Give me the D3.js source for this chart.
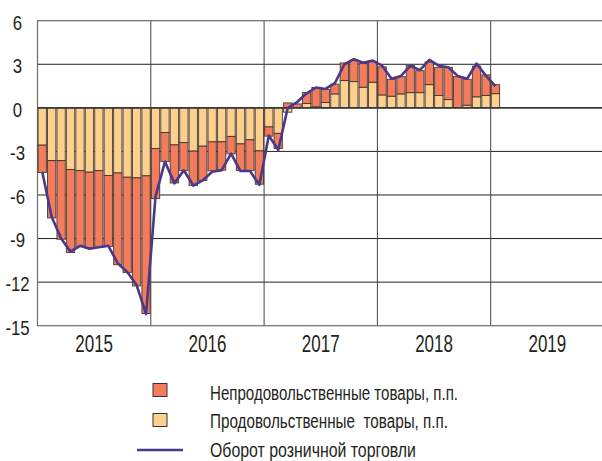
<!DOCTYPE html>
<html><head><meta charset="utf-8">
<script src="https://cdn.jsdelivr.net/npm/d3@7"></script>
<style>
body{margin:0;background:#fff;}
svg text{font-family:"Liberation Sans Narrow","Liberation Sans",Arial,sans-serif;fill:#231f20;}
</style></head>
<body><svg id="c" width="602" height="461"></svg>
<script>
const years = ["2015","2016","2017","2018","2019"];
const months = d3.range(60).map(i => i); // Jan 2015 .. Dec 2019
const foodValues = [
 -2.57,-3.63,-3.63,-4.25,-4.32,-4.43,-4.32,-4.66,-4.48,-4.78,-4.82,-4.68,
 -2.80,-1.70,-2.55,-2.39,-2.98,-2.64,-2.34,-2.34,-1.97,-2.48,-2.20,-2.96,
 -1.31,-1.76,-0.30,0.00,0.30,0.07,0.37,0.96,1.88,1.81,1.42,1.76,
 0.89,0.80,0.96,1.05,1.05,1.60,0.85,0.57,0.00,0.18,0.76,0.85,
 0.98];
const nonFoodValues = [
 -1.88,-3.95,-5.42,-5.71,-5.23,-5.21,-5.28,-4.89,-6.32,-6.56,-7.44,-9.48,
 -3.44,-2.00,-2.62,-1.93,-2.37,-2.36,-2.00,-1.95,-1.20,-1.84,-2.12,-2.30,
 -0.64,-1.04,0.34,0.27,0.75,1.33,0.89,0.67,1.21,1.46,1.63,1.44,
 1.93,1.17,1.19,1.86,1.51,1.56,1.94,2.22,2.15,1.79,2.10,1.42,
 0.62];
const turnoverValues = [
 -4.4,-7.5,-9.0,-9.9,-9.5,-9.7,-9.6,-9.5,-10.7,-11.3,-12.2,-14.2,
 -6.1,-3.7,-5.2,-4.3,-5.35,-5.0,-4.4,-4.3,-3.15,-4.35,-4.35,-5.3,
 -1.9,-2.9,0.0,0.4,1.0,1.4,1.3,1.7,3.0,3.35,3.1,3.25,
 2.9,2.0,2.2,2.9,2.6,3.3,2.9,2.8,2.2,2.0,3.05,2.2,
 1.5];
const yTicks = [6,3,0,-3,-6,-9,-12,-15];
const legendLabels = ["Непродовольственные товары, п.п.","Продовольственные  товары, п.п.","Оборот розничной торговли"];
const colors = {nonFood:"#f27c5b", food:"#fdd08e", line:"#4a3888", stroke:"#3b3330"};

const svg = d3.select("#c");
const L = 37.5, R = 604, T = 20.7, B = 325.7;
const x = d3.scaleBand().domain(months).range([L, R]).paddingInner(0.12).paddingOuter(0.06);
const xYear = d3.scaleBand().domain(years).range([L, R]);
const y = d3.scaleLinear().domain([-15, 6]).range([B, T]);

// grid
svg.append("g").selectAll("line").data(yTicks.filter(v => v !== 0 && v !== -15 && v !== 6)).join("line")
  .attr("x1", L).attr("x2", R).attr("y1", d => y(d)).attr("y2", d => y(d))
  .attr("stroke", "#231f20").attr("stroke-width", 1);
svg.append("g").selectAll("line").data(years.slice(1)).join("line")
  .attr("x1", d => xYear(d)).attr("x2", d => xYear(d)).attr("y1", T).attr("y2", B)
  .attr("stroke", "#444").attr("stroke-width", 1);
// frame
svg.append("rect").attr("x", L).attr("y", T).attr("width", R - L).attr("height", B - T)
  .attr("fill", "none").attr("stroke", "#6d6d6d").attr("stroke-width", 1.2);

// bars
const rows = foodValues.map((f, i) => ({m: months[i], food: f, nonFood: nonFoodValues[i]}));
const stack = d3.stack().keys(["food","nonFood"]).offset(d3.stackOffsetDiverging);
const series = stack(rows);
svg.append("g").selectAll("g").data(series).join("g")
  .attr("fill", d => colors[d.key])
  .selectAll("rect").data(d => d).join("rect")
  .attr("x", d => x(d.data.m)).attr("width", x.bandwidth())
  .attr("y", d => y(Math.max(d[0], d[1])))
  .attr("height", d => Math.abs(y(d[0]) - y(d[1])))
  .attr("stroke", colors.stroke).attr("stroke-width", 1).attr("stroke-opacity", 0.85);

// zero line
svg.append("line").attr("x1", L).attr("x2", R).attr("y1", y(0)).attr("y2", y(0))
  .attr("stroke", "#3a3a3a").attr("stroke-width", 1.6);

// line
const line = d3.line().x((d, i) => x(months[i]) + x.bandwidth() / 2).y(d => y(d));
svg.append("path").datum(turnoverValues).attr("d", line)
  .attr("fill", "none").attr("stroke", colors.line).attr("stroke-width", 2.6).attr("stroke-linejoin", "round");

// y axis labels (condensed via horizontal scale)
svg.append("g").selectAll("text").data(yTicks).join("text")
  .attr("transform", d => `translate(17.5,${y(d) + 8.8}) scale(0.84,1)`)
  .attr("text-anchor", "middle").attr("font-size", 20).text(d => String(d));
// x labels
svg.append("g").selectAll("text").data(years).join("text")
  .attr("transform", d => `translate(${xYear(d) + xYear.bandwidth() / 2},351.5) scale(0.74,1)`)
  .attr("text-anchor", "middle").attr("font-size", 23).text(d => d);

// legend
const lg = svg.append("g");
[colors.nonFood, colors.food].forEach((c, i) => {
  lg.append("rect").attr("x", 153).attr("y", 383.5 + i * 30).attr("width", 14).attr("height", 13)
    .attr("fill", c).attr("stroke", colors.stroke).attr("stroke-width", 1);
});
lg.append("line").attr("x1", 137).attr("x2", 183).attr("y1", 450).attr("y2", 450)
  .attr("stroke", colors.line).attr("stroke-width", 2.6);
const legendWidths = [248, 238, 206];
const legendBase = [399.5, 427.8, 457.3];
lg.selectAll("text").data(legendLabels).join("text")
  .attr("x", 210).attr("y", (d, i) => legendBase[i])
  .attr("textLength", (d, i) => legendWidths[i]).attr("lengthAdjust", "spacingAndGlyphs")
  .attr("font-size", 20).attr("xml:space", "preserve").style("white-space", "pre").text(d => d);
</script></body></html>
